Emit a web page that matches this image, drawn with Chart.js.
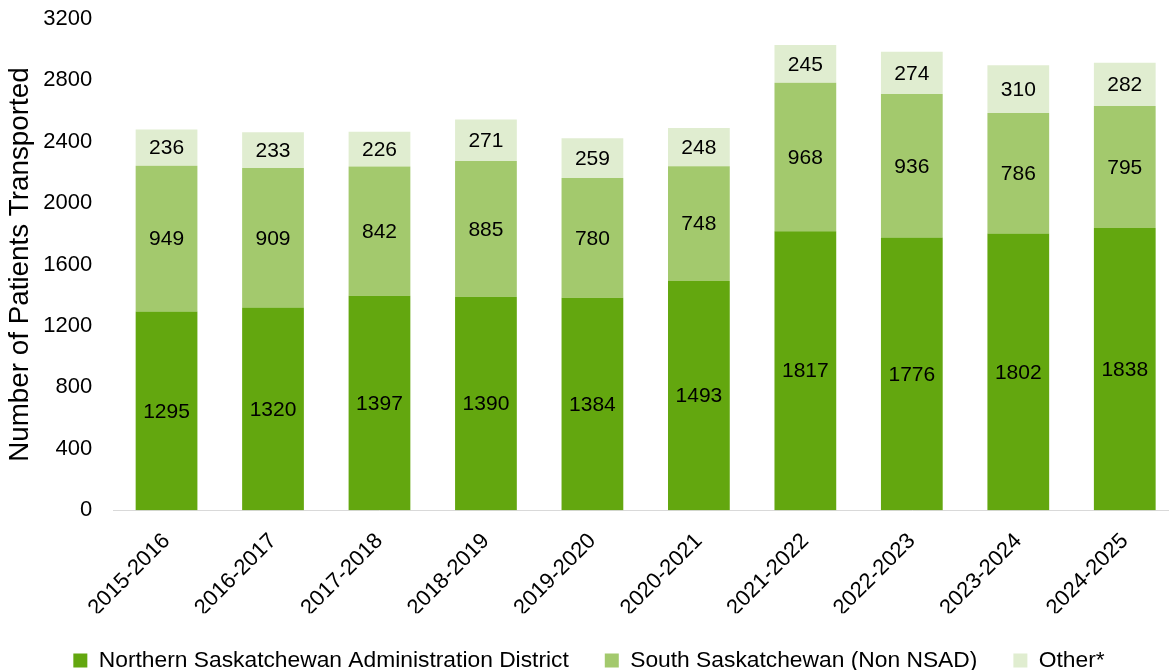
<!DOCTYPE html>
<html>
<head>
<meta charset="utf-8">
<script src="https://cdn.jsdelivr.net/npm/chart.js@4/dist/chart.umd.min.js"></script>
<style>
  html, body { margin: 0; padding: 0; background: #fff; overflow: hidden; }
  #wrap { width: 1178px; height: 697px; margin-top: -15px; }
</style>
</head>
<body>
<div id="wrap"><canvas id="patientsChart"></canvas></div>
<script>
// Fiscal years on the x axis
const years = ['2015-2016', '2016-2017', '2017-2018', '2018-2019', '2019-2020',
               '2020-2021', '2021-2022', '2022-2023', '2023-2024', '2024-2025'];

// Patients transported per region
const northern = [1295, 1320, 1397, 1390, 1384, 1493, 1817, 1776, 1802, 1838];
const south = [949, 909, 842, 885, 780, 748, 968, 936, 786, 795];
const other = [236, 233, 226, 271, 259, 248, 245, 274, 310, 282];

const seriesNames = ['Northern Saskatchewan Administration District', 'South Saskatchewan (Non NSAD)', 'Other*'];

const fontFamily = '"Liberation Sans", Arial, sans-serif';

// Draws each value in the middle of its bar segment
const valueLabels = {
  id: 'valueLabels',
  afterDatasetsDraw(chart) {
    const ctx = chart.ctx;
    ctx.save();
    ctx.font = '21px ' + fontFamily;
    ctx.fillStyle = '#000';
    ctx.textAlign = 'center';
    ctx.textBaseline = 'middle';
    chart.data.datasets.forEach((ds, i) => {
      chart.getDatasetMeta(i).data.forEach((bar, j) => {
        const mid = (bar.y + bar.base) / 2;
        ctx.fillText(ds.data[j], bar.x, mid + 1);
      });
    });
    ctx.restore();
  }
};

const ctx = document.getElementById('patientsChart').getContext('2d');

new Chart(ctx, {
  type: 'bar',
  data: {
    labels: years,
    datasets: [
      { label: seriesNames[0], data: northern, backgroundColor: '#63a70f' },
      { label: seriesNames[1], data: south, backgroundColor: '#a3c96d' },
      { label: seriesNames[2], data: other, backgroundColor: '#e0edd0' }
    ]
  },
  options: {
    responsive: true,
    maintainAspectRatio: false,
    animation: false,
    categoryPercentage: 0.58,
    barPercentage: 1,
    layout: { padding: { top: 34, left: 0, right: 0, bottom: 0 } },
    plugins: {
      tooltip: { enabled: false },
      legend: {
        position: 'bottom',
        labels: {
          boxWidth: 14,
          boxHeight: 14,
          padding: 36,
          color: '#000',
          font: { size: 22.8, family: fontFamily }
        }
      }
    },
    scales: {
      x: {
        stacked: true,
        grid: { display: false },
        border: { display: true, color: '#d9d9d9', width: 1 },
        ticks: {
          color: '#000',
          padding: 10,
          maxRotation: 45,
          minRotation: 45,
          font: { size: 22, family: fontFamily }
        },
        // let the rotated labels hang under the y axis, and give the bars more height
        afterFit: (scale) => {
          scale.paddingLeft = 0;
          scale.height -= 18;
        }
      },
      y: {
        stacked: true,
        min: 0,
        max: 3200,
        grid: { display: false },
        border: { display: false },
        ticks: {
          stepSize: 400,
          color: '#000',
          padding: 13,
          font: { size: 22, family: fontFamily },
          callback: (v) => String(v)
        },
        title: {
          display: true,
          text: 'Number of Patients Transported',
          color: '#000',
          font: { size: 27.8, family: fontFamily }
        },
        afterFit: (scale) => {
          scale.width -= 11;
        }
      }
    }
  },
  plugins: [valueLabels]
});
</script>
</body>
</html>
